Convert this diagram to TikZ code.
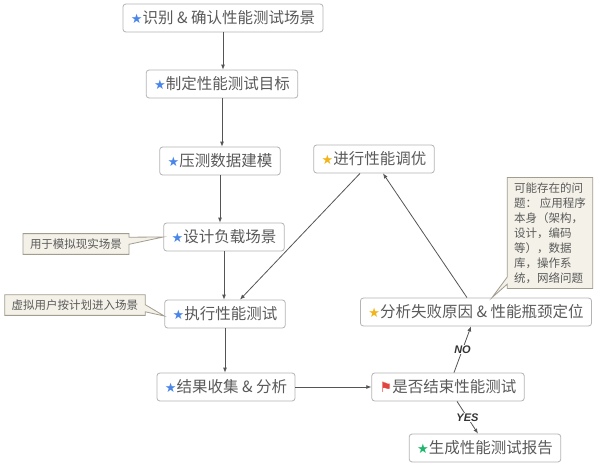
\documentclass[tikz,border=0pt]{standalone}
\usepackage{fontspec}
\setmainfont{Noto Sans CJK SC}
\newfontfamily\symfont{DejaVu Sans}
\newfontfamily\latinfont{Liberation Sans}
\usetikzlibrary{arrows.meta, shapes.callouts}

\definecolor{starblue}{HTML}{4A86E8}
\definecolor{staryellow}{HTML}{F2B418}
\definecolor{flagred}{HTML}{E0443E}
\definecolor{stargreen}{HTML}{1DB56A}
\definecolor{boxline}{HTML}{B4B4B4}
\definecolor{boxtext}{HTML}{5A5A5A}
\definecolor{notefill}{HTML}{F4F1E8}
\definecolor{noteline}{HTML}{A39D90}
\definecolor{arrowgray}{HTML}{555555}

\newcommand{\bluestar}{{\symfont\fontsize{13}{13}\selectfont\color{starblue}★}}
\newcommand{\yellowstar}{{\symfont\fontsize{13}{13}\selectfont\color{staryellow}★}}
\newcommand{\greenstar}{{\symfont\fontsize{13}{13}\selectfont\color{stargreen}★}}
\newcommand{\redflag}{{\symfont\fontsize{14}{14}\selectfont\color{flagred}⚑}}

\tikzset{
  stepbox/.style={draw=boxline, line width=0.8pt, rounded corners=3pt, fill=white,
    text=boxtext, inner xsep=8pt, minimum height=28pt, font=\fontsize{15.5}{18}\selectfont},
  notebox/.style={rectangle callout, draw=noteline, line width=0.8pt, fill=notefill,
    text=boxtext, inner xsep=7pt, inner ysep=5pt, font=\fontsize{11.5}{15}\selectfont},
  flow/.style={draw=arrowgray, line width=0.8pt, -{Latex[length=5pt, width=4pt]}},
  answer/.style={fill=white, inner sep=1pt, text=black!80, font=\latinfont\bfseries\itshape\fontsize{11}{12}\selectfont}
}

\begin{document}
\begin{tikzpicture}[x=1pt, y=-1pt]

  \fill[white] (0,0) rectangle (600,466);
  \useasboundingbox (0,0) rectangle (600,466);

  % main flow
  \node[stepbox] (scene) at (223,18) {\bluestar 识别 \& 确认性能测试场景};
  \node[stepbox] (goal) at (222,84) {\bluestar 制定性能测试目标};
  \node[stepbox] (model) at (220,161) {\bluestar 压测数据建模};
  \node[stepbox] (design) at (224,237) {\bluestar 设计负载场景};
  \node[stepbox] (run) at (225,314) {\bluestar 执行性能测试};
  \node[stepbox] (collect) at (226,387) {\bluestar 结果收集 \& 分析};
  \node[stepbox] (finish) at (448,387) {\redflag 是否结束性能测试};
  \node[stepbox] (report) at (485,448) {\greenstar 生成性能测试报告};
  \node[stepbox] (analyse) at (476,312) {\yellowstar 分析失败原因 \& 性能瓶颈定位};
  \node[stepbox] (tune) at (374,159) {\yellowstar 进行性能调优};

  % notes
  \node[notebox, callout absolute pointer={(design.west)}] (simnote) at (76,244) {用于模拟现实场景};
  \node[notebox, callout absolute pointer={([yshift=-2pt]run.west)}] (usernote) at (75,305) {虚拟用户按计划进入场景};
  \node[notebox, align=left, callout absolute pointer={([xshift=16pt]analyse.north)}] (causenote) at (550,233)
    {可能存在的问\\题：\ 应用程序\\本身（架构，\\设计，编码\\等），数据\\库，操作系\\统，网络问题};

  \draw[flow] (scene.south) -- (scene.south |- goal.north);
  \draw[flow] (goal.south) -- (goal.south |- model.north);
  \draw[flow] (model.south) -- (model.south |- design.north);
  \draw[flow] (design.south) -- (design.south |- run.north);
  \draw[flow] (run.south) -- (run.south |- collect.north);
  \draw[flow] (collect) -- (finish);
  \draw[flow] ([xshift=6pt]finish.north) -- node[answer] {NO} ([xshift=-5pt]analyse.south);
  \draw[flow] ([xshift=9pt]finish.south) -- node[answer] {YES} ([xshift=-7pt]report.north);
  \draw[flow] ([xshift=-9pt]analyse.north) -- ([xshift=9pt]tune.south);
  \draw[flow] ([xshift=-14pt]tune.south) -- ([xshift=15pt]run.north);

\end{tikzpicture}
\end{document}
